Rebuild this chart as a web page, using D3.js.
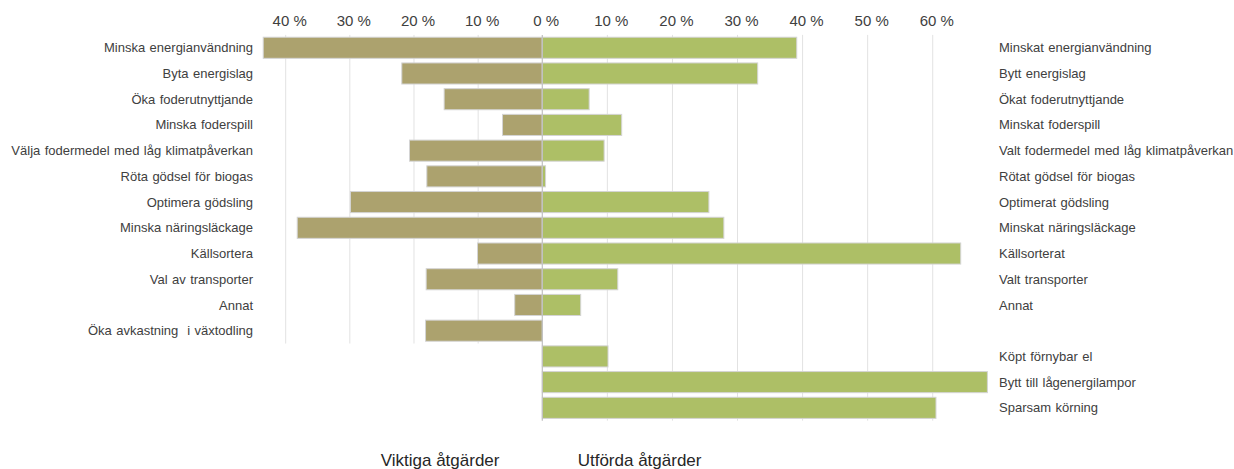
<!DOCTYPE html>
<html>
<head>
<meta charset="utf-8">
<script src="https://cdn.jsdelivr.net/npm/d3@7/dist/d3.min.js"></script>
<style>
  html, body { margin: 0; padding: 0; background: #fff; }
  svg { display: block; font-family: "Liberation Sans", Arial, sans-serif; }
</style>
</head>
<body>
<svg id="chart" width="1234" height="469"></svg>
<script>
// Important measures (left) vs. measures carried out (right), share of respondents in %
const leftCategories = [
  "Minska energianvändning", "Byta energislag", "Öka foderutnyttjande",
  "Minska foderspill", "Välja fodermedel med låg klimatpåverkan",
  "Röta gödsel för biogas", "Optimera gödsling", "Minska näringsläckage",
  "Källsortera", "Val av transporter", "Annat", "Öka avkastning  i växtodling"
];
const leftValues = [43.5, 21.9, 15.3, 6.2, 20.7, 18.0, 29.9, 38.2, 10.1, 18.1, 4.3, 18.2];

const rightCategories = [
  "Minskat energianvändning", "Bytt energislag", "Ökat foderutnyttjande",
  "Minskat foderspill", "Valt fodermedel med låg klimatpåverkan",
  "Rötat gödsel för biogas", "Optimerat gödsling", "Minskat näringsläckage",
  "Källsorterat", "Valt transporter", "Annat", "",
  "Köpt förnybar el", "Bytt till lågenergilampor", "Sparsam körning"
];
const rightValues = [39.1, 33.1, 7.2, 12.2, 9.5, 0.5, 25.6, 27.9, 64.3, 11.6, 5.9, null, 10.1, 68.4, 60.5];

const leftTicks = [10, 20, 30, 40];
const rightTicks = [0, 10, 20, 30, 40, 50, 60];
const titles = ["Viktiga åtgärder", "Utförda åtgärder"];

const colors = { left: "#aca26e", right: "#adbf66", edge: "#d4d4d4", grid: "#e2e2e2", zero: "#c0c0c0", text: "#404040" };

const svg = d3.select("#chart");

const zeroX = 542.3;
const xLeft = d3.scaleLinear().domain([0, 45]).range([zeroX, 253.6]);
const xRight = d3.scaleLinear().domain([0, 70]).range([zeroX, 997.8]);

const y = d3.scaleBand()
  .domain(d3.range(rightCategories.length))
  .range([34.9, 420.7])
  .paddingInner(0.18)
  .paddingOuter(0.09);

const plotTop = y.range()[0];
const leftBottom = plotTop + y.step() * leftCategories.length;
const rightBottom = y.range()[1];

// gridlines
svg.append("g").selectAll("line").data(leftTicks).join("line")
  .attr("x1", d => xLeft(d)).attr("x2", d => xLeft(d))
  .attr("y1", plotTop).attr("y2", leftBottom)
  .attr("stroke", colors.grid).attr("stroke-width", 1);
svg.append("g").selectAll("line").data(rightTicks.filter(d => d > 0)).join("line")
  .attr("x1", d => xRight(d)).attr("x2", d => xRight(d))
  .attr("y1", plotTop).attr("y2", rightBottom)
  .attr("stroke", colors.grid).attr("stroke-width", 1);

// tick labels along the top
const fmt = d => d + " %";
svg.append("g").selectAll("text").data(leftTicks).join("text")
  .attr("x", d => xLeft(d) + 4).attr("y", 26)
  .attr("text-anchor", "middle").attr("font-size", 15).attr("fill", colors.text)
  .text(fmt);
svg.append("g").selectAll("text").data(rightTicks).join("text")
  .attr("x", d => xRight(d) + 4).attr("y", 26)
  .attr("text-anchor", "middle").attr("font-size", 15).attr("fill", colors.text)
  .text(fmt);

// left bars
svg.append("g").selectAll("rect").data(leftValues).join("rect")
  .attr("x", d => xLeft(d)).attr("width", d => zeroX - xLeft(d))
  .attr("y", (d, i) => y(i)).attr("height", y.bandwidth())
  .attr("fill", colors.left).attr("stroke", colors.edge).attr("stroke-width", 1);

// right bars
svg.append("g").selectAll("rect")
  .data(rightValues.map((v, i) => ({ v, i })).filter(d => d.v != null))
  .join("rect")
  .attr("x", zeroX).attr("width", d => xRight(d.v) - zeroX)
  .attr("y", d => y(d.i)).attr("height", y.bandwidth())
  .attr("fill", colors.right).attr("stroke", colors.edge).attr("stroke-width", 1);

// zero line
svg.append("line")
  .attr("x1", zeroX).attr("x2", zeroX).attr("y1", plotTop).attr("y2", rightBottom)
  .attr("stroke", colors.zero).attr("stroke-width", 1.2);

// category labels
svg.append("g").selectAll("text").data(leftCategories).join("text")
  .attr("x", 253).attr("y", (d, i) => y(i) + y.bandwidth() / 2)
  .attr("dy", "0.35em").attr("text-anchor", "end")
  .attr("font-size", 13).attr("fill", colors.text)
  .style("white-space", "pre").style("word-spacing", "0.8px")
  .text(d => d);
svg.append("g").selectAll("text").data(rightCategories).join("text")
  .attr("x", 999).attr("y", (d, i) => y(i) + y.bandwidth() / 2)
  .attr("dy", "0.35em").attr("text-anchor", "start")
  .attr("font-size", 13).attr("fill", colors.text)
  .style("word-spacing", "0.8px")
  .text(d => d);

// panel titles
svg.append("text").attr("x", 380.7).attr("y", 466)
  .attr("font-size", 17).attr("fill", "#262626").text(titles[0]);
svg.append("text").attr("x", 577.7).attr("y", 466)
  .attr("font-size", 17).attr("fill", "#262626").text(titles[1]);
</script>
</body>
</html>
